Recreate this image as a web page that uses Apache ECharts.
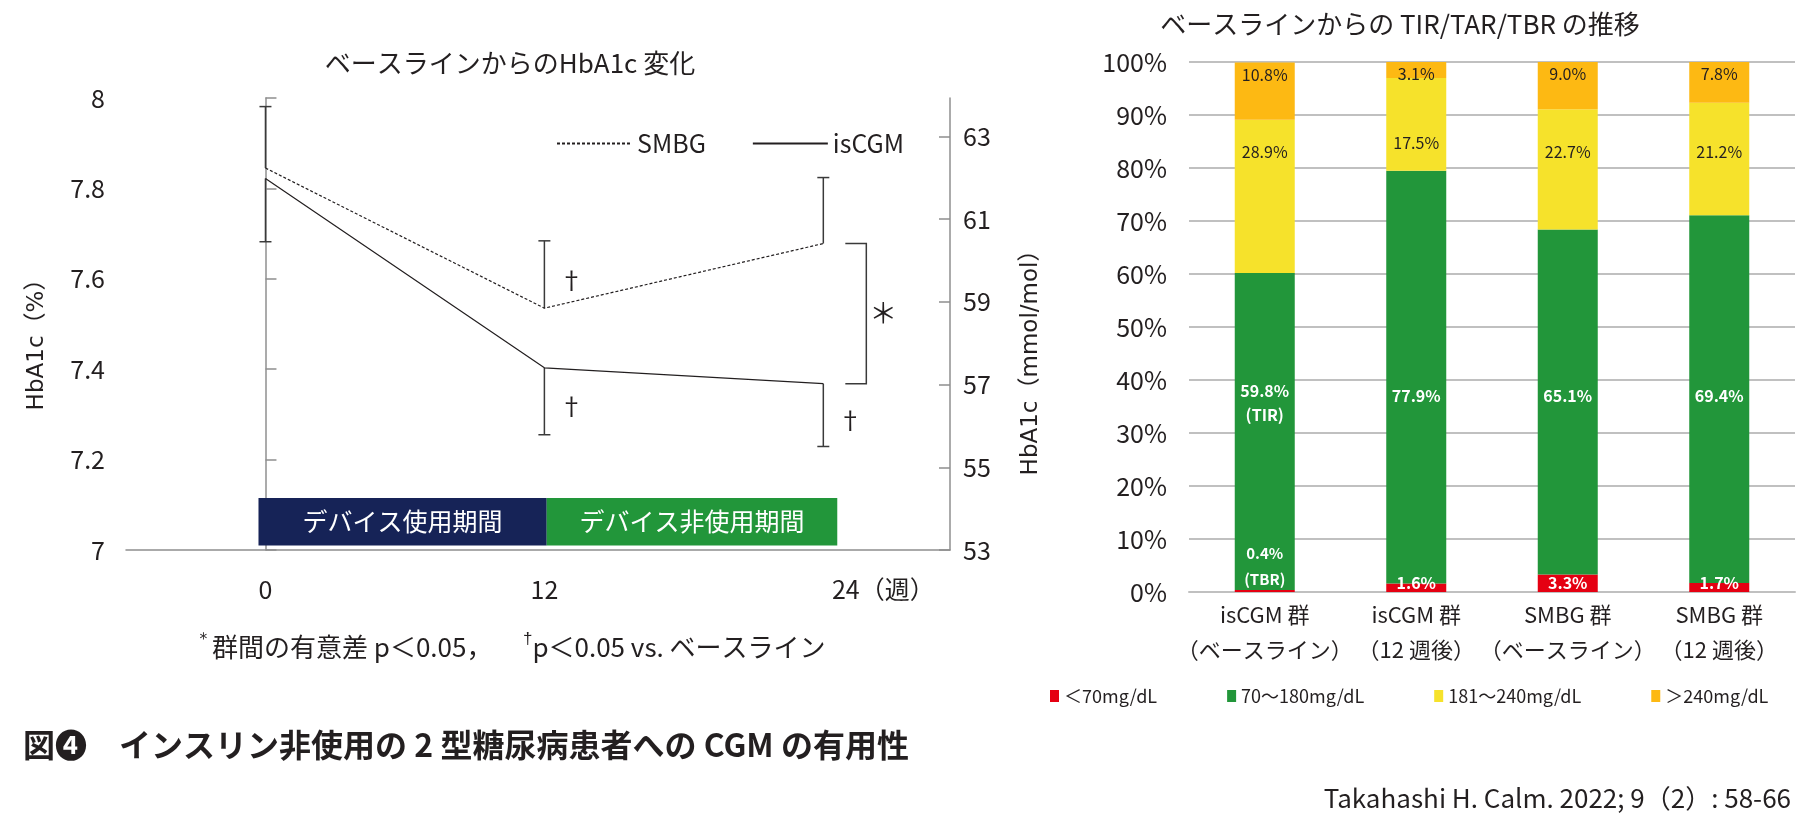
<!DOCTYPE html>
<html>
<head>
<meta charset="utf-8">
<script src="https://cdn.jsdelivr.net/npm/echarts@6/dist/echarts.min.js"></script>
<style>
  html, body { margin: 0; padding: 0; background: #fff; }
  #main { width: 1800px; height: 828px; }
</style>
</head>
<body>
<div id="main"></div>
<script>
// left panel: HbA1c change
const weeks = [0, 12, 24]
const smbgMean = [7.845, 7.535, 7.678]
const smbgErr = [0.136, 0.149, 0.146]   // upper whisker
const iscgmMean = [7.822, 7.403, 7.368]
const iscgmErr = [0.140, 0.148, 0.139]  // lower whisker
const smbgSig = [0, 1, 0]               // † vs baseline
const iscgmSig = [0, 1, 1]
const mmolTicks = [53, 55, 57, 59, 61, 63]
const weekTicks = [0, 12, 24]
const periodNames = ['デバイス使用期間', 'デバイス非使用期間']
const periodStart = [-0.3, 12.1]
const periodEnd = [12.1, 24.6]

// right panel: TIR/TAR/TBR
const groups = ['isCGM 群\n（ベースライン）', 'isCGM 群\n（12 週後）', 'SMBG 群\n（ベースライン）', 'SMBG 群\n（12 週後）']
const rangeNames = ['＜70mg/dL', '70～180mg/dL', '181～240mg/dL', '＞240mg/dL']
const tbr = [0.4, 1.6, 3.3, 1.7]
const tir = [59.8, 77.9, 65.1, 69.4]
const tar1 = [28.9, 17.5, 22.7, 21.2]
const tar2 = [10.8, 3.1, 9.0, 7.8]

const FONT = '"Noto Sans CJK JP", "Noto Sans", sans-serif'
const INK = '#231f20'
const AXIS_GRAY = '#8f8f8f'
const PX_PER_PCT = 530 / 100
const rangeColors = ['#e50012', '#22963a', '#f6e22b', '#fdb913']
const periodColors = ['#162357', '#22963a']

function renderErr(params, api) {
  const base = api.coord([api.value(0), api.value(1)])
  const end = api.coord([api.value(0), api.value(2)])
  const st = { stroke: '#3a3a3a', lineWidth: 1.5 }
  const children = [
    { type: 'line', shape: { x1: base[0], y1: base[1], x2: end[0], y2: end[1] }, style: st },
    { type: 'line', shape: { x1: end[0] - 6, y1: end[1], x2: end[0] + 6, y2: end[1] }, style: st }
  ]
  if (api.value(3)) {
    children.push({
      type: 'text', x: base[0] + 27, y: (base[1] + end[1]) / 2 + 5,
      style: { text: '†', fontSize: 24, fontFamily: FONT, fill: INK, align: 'center', verticalAlign: 'middle' }
    })
  }
  return { type: 'group', children }
}

function renderBracket(params, api) {
  const top = api.coord([api.value(0), api.value(1)])
  const bot = api.coord([api.value(0), api.value(2)])
  const x0 = top[0] + 22, x1 = top[0] + 43
  return {
    type: 'group',
    children: [
      { type: 'polyline', shape: { points: [[x0, top[1]], [x1, top[1]], [x1, bot[1]], [x0, bot[1]]] },
        style: { stroke: '#3a3a3a', lineWidth: 1.5, fill: null } },
      { type: 'text', x: x1 + 17, y: (top[1] + bot[1]) / 2,
        style: { text: '＊', fontSize: 28, fontFamily: FONT, fill: INK, align: 'center', verticalAlign: 'middle' } }
    ]
  }
}

function renderBand(params, api) {
  const idx = api.value(2)
  const p0 = api.coord([api.value(0), 7.115])
  const p1 = api.coord([api.value(1), 7.01])
  return {
    type: 'group',
    children: [
      { type: 'rect', shape: { x: p0[0], y: p0[1], width: p1[0] - p0[0], height: p1[1] - p0[1] },
        style: { fill: periodColors[idx] } },
      { type: 'text', x: (p0[0] + p1[0]) / 2, y: (p0[1] + p1[1]) / 2,
        style: { text: periodNames[idx], fontSize: 25, fontFamily: FONT, fill: '#fff', align: 'center', verticalAlign: 'middle' } }
    ]
  }
}

// label anchors (in % of axis) for the middle segments
const labelAnchor = { 1: [35.6, 37, 37, 37], 2: [83, 84.8, 83, 83] }
const stackVals = [tbr, tir, tar1, tar2]

function segLabel(k, i) {
  const v = stackVals[k][i]
  const fmt = p => p.value.toFixed(1) + '%'
  if (k === 0) {
    if (i === 0) {
      return { show: true, position: 'insideBottom', distance: 0, color: '#fff', fontWeight: 'bold', fontSize: 15,
        lineHeight: 26, formatter: p => fmt(p) + '\n(TBR)' }
    }
    return { show: true, position: 'insideBottom', distance: 1, color: '#fff', fontWeight: 'bold', fontSize: 16, formatter: fmt }
  }
  if (k === 3) {
    return { show: true, position: 'insideTop', distance: 4, color: INK, fontSize: 16, formatter: fmt }
  }
  let below = 0
  for (let j = 0; j < k; j++) below += stackVals[j][i]
  const center = below + v / 2
  const lab = {
    show: true, position: 'inside', offset: [0, (center - labelAnchor[k][i]) * PX_PER_PCT],
    color: k === 1 ? '#fff' : INK, fontWeight: k === 1 ? 'bold' : 'normal', fontSize: 16, formatter: fmt
  }
  if (k === 1 && i === 0) {
    lab.formatter = p => fmt(p) + '\n(TIR)'
    lab.lineHeight = 24
  }
  return lab
}

const chart = echarts.init(document.getElementById('main'))

chart.setOption({
  animation: false,
  backgroundColor: '#fff',
  textStyle: { fontFamily: FONT, color: INK },
  grid: [
    { left: 126, top: 98, width: 824, height: 452 },
    { left: 1189, top: 62, width: 606, height: 530 }
  ],
  legend: [
    {
      data: ['SMBG', 'isCGM'], left: 551, top: 126,
      itemWidth: 75, itemHeight: 14, itemGap: 46,
      itemStyle: { color: 'transparent', borderColor: 'transparent', borderWidth: 0 },
      textStyle: { fontSize: 25, color: INK, fontFamily: FONT }
    },
    {
      data: rangeNames, left: 1045, top: 682, icon: 'rect',
      itemWidth: 9, itemHeight: 12, itemGap: 70,
      textStyle: { fontSize: 18, color: INK, fontFamily: FONT }
    }
  ],
  xAxis: [
    {
      type: 'value', gridIndex: 0, min: -6, max: 29.45,
      axisLine: { lineStyle: { color: AXIS_GRAY, width: 1.5 } },
      axisTick: { show: false },
      splitLine: { show: false },
      axisLabel: {
        customValues: weekTicks, margin: 27, fontSize: 25, color: INK,
        formatter: v => v === 24 ? '{s| }24（週）' : String(v),
        rich: { s: { width: 120 } }
      }
    },
    {
      type: 'category', gridIndex: 1, data: groups,
      axisLine: { lineStyle: { color: '#c0c0c0', width: 2 } },
      axisTick: { show: false },
      axisLabel: { fontSize: 22, lineHeight: 35, margin: 5, color: INK, interval: 0 }
    }
  ],
  yAxis: [
    {
      type: 'value', gridIndex: 0, min: 7, max: 8, interval: 0.2,
      name: 'HbA1c（%）', nameLocation: 'middle', nameGap: 77, nameRotate: 90,
      nameTextStyle: { fontSize: 23, color: INK, fontFamily: '"DejaVu Sans", ' + FONT, padding: [0, 30, 0, 0] },
      axisLine: { show: true, lineStyle: { color: AXIS_GRAY, width: 1.5 } },
      axisTick: { inside: true, length: 11, lineStyle: { color: AXIS_GRAY, width: 1.5 } },
      splitLine: { show: false },
      axisLabel: { fontSize: 25, margin: 21, color: INK }
    },
    {
      type: 'value', gridIndex: 0, position: 'right', min: 53, max: 63.93,
      name: 'HbA1c（mmol/mol）', nameLocation: 'middle', nameGap: 70, nameRotate: 90,
      nameTextStyle: { fontSize: 23, color: INK, fontFamily: '"DejaVu Sans", ' + FONT, padding: [0, 66, 0, 0] },
      axisLine: { show: true, lineStyle: { color: AXIS_GRAY, width: 1.5 } },
      axisTick: { inside: true, length: 11, customValues: mmolTicks, lineStyle: { color: AXIS_GRAY, width: 1.5 } },
      splitLine: { show: false },
      axisLabel: { customValues: mmolTicks, fontSize: 25, margin: 13, color: INK }
    },
    {
      type: 'value', gridIndex: 1, min: 0, max: 100, interval: 10,
      axisLine: { show: false },
      axisTick: { show: false },
      splitLine: { lineStyle: { color: '#c0c0c0', width: 2 } },
      axisLabel: { formatter: '{value}%', fontSize: 25, margin: 22, color: INK }
    }
  ],
  series: [
    {
      name: 'SMBG', type: 'line', xAxisIndex: 0, yAxisIndex: 0, symbol: 'none',
      data: weeks.map((w, i) => [w, smbgMean[i]]),
      lineStyle: { color: INK, width: 1.2, type: [3, 2] },
      itemStyle: { color: INK }
    },
    {
      name: 'isCGM', type: 'line', xAxisIndex: 0, yAxisIndex: 0, symbol: 'none',
      data: weeks.map((w, i) => [w, iscgmMean[i]]),
      lineStyle: { color: INK, width: 1.2 },
      itemStyle: { color: INK }
    },
    {
      name: 'err-smbg', type: 'custom', xAxisIndex: 0, yAxisIndex: 0, renderItem: renderErr,
      data: weeks.map((w, i) => [w, smbgMean[i], smbgMean[i] + smbgErr[i], smbgSig[i]])
    },
    {
      name: 'err-iscgm', type: 'custom', xAxisIndex: 0, yAxisIndex: 0, renderItem: renderErr,
      data: weeks.map((w, i) => [w, iscgmMean[i], iscgmMean[i] - iscgmErr[i], iscgmSig[i]])
    },
    {
      name: 'sig', type: 'custom', xAxisIndex: 0, yAxisIndex: 0, renderItem: renderBracket,
      data: [[weeks[2], smbgMean[2], iscgmMean[2]]]
    },
    {
      name: 'period', type: 'custom', xAxisIndex: 0, yAxisIndex: 0, renderItem: renderBand,
      data: periodStart.map((s, i) => [s, periodEnd[i], i])
    }
  ].concat(rangeNames.map((nm, k) => ({
    name: nm, type: 'bar', stack: 'pct', xAxisIndex: 1, yAxisIndex: 2, barWidth: 60,
    itemStyle: { color: rangeColors[k] },
    data: stackVals[k].map((v, i) => ({ value: v, label: segLabel(k, i) }))
  }))),
  graphic: [
    { type: 'text', x: 510, y: 63, style: { text: 'ベースラインからのHbA1c 変化', fontSize: 26, fontFamily: FONT, fill: INK, align: 'center', verticalAlign: 'middle' } },
    { type: 'text', x: 1400, y: 24, style: { text: 'ベースラインからの TIR/TAR/TBR の推移', fontSize: 26, fontFamily: FONT, fill: INK, align: 'center', verticalAlign: 'middle' } },
    { type: 'text', x: 195, y: 647, style: {
      text: '{s|＊}群間の有意差 p＜0.05，　   {s|†}p＜0.05 vs. ベースライン',
      fontSize: 26, fontFamily: FONT, fill: INK, verticalAlign: 'middle', lineHeight: 32,
      rich: { s: { fontSize: 17, verticalAlign: 'top', lineHeight: 32 } } } },
    { type: 'text', x: 23, y: 745, style: { text: '図❹　インスリン非使用の 2 型糖尿病患者への CGM の有用性', fontSize: 32, fontWeight: 'bold', fontFamily: FONT, fill: INK, verticalAlign: 'middle' } },
    { type: 'text', x: 1791, y: 798, style: { text: 'Takahashi H. Calm. 2022; 9（2）: 58-66', fontSize: 26, fontFamily: FONT, fill: INK, align: 'right', verticalAlign: 'middle' } }
  ]
})
</script>
</body>
</html>
